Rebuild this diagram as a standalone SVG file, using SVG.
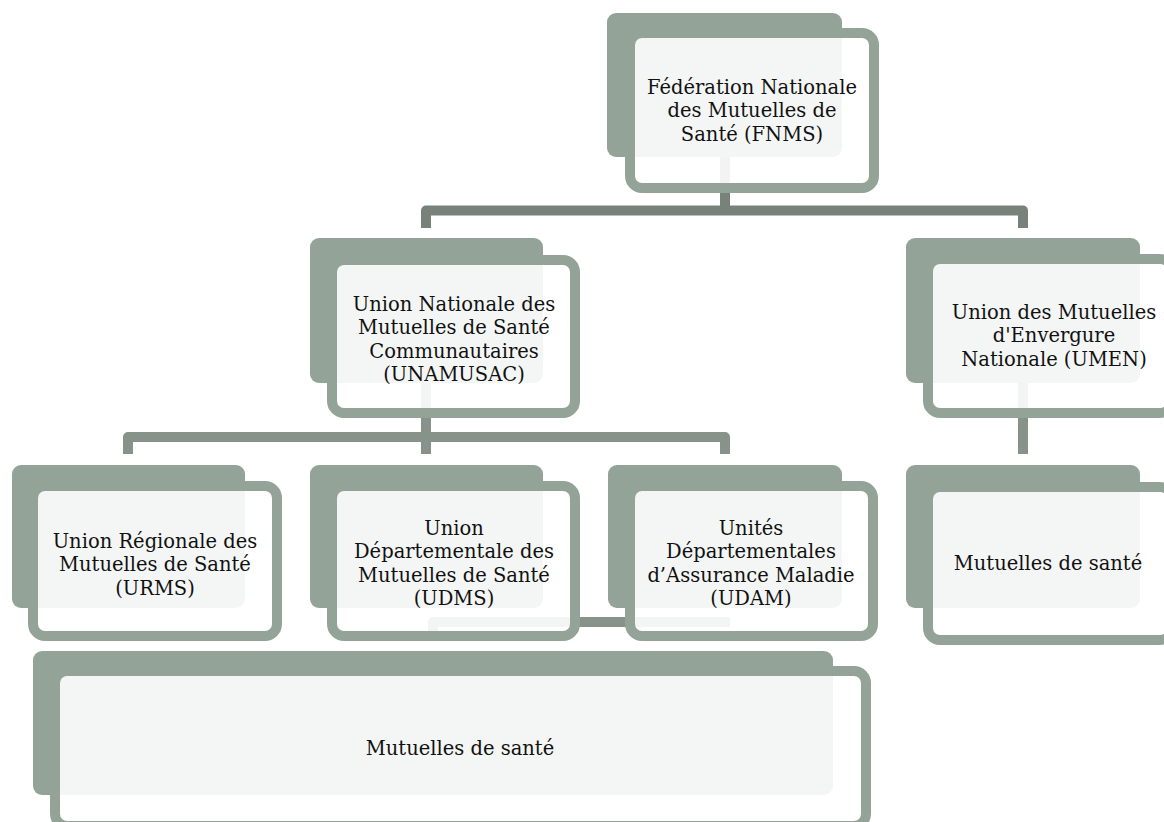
<svg xmlns="http://www.w3.org/2000/svg" width="1164" height="822" viewBox="0 0 1164 822">
<style>
.back{fill:#93a398}
.front{fill:#ffffff;fill-opacity:0.9;stroke:#93a398;stroke-width:10}
.c1{fill:none;stroke:#78827a;stroke-width:10;stroke-linejoin:round}
.c2{fill:none;stroke:#87938a;stroke-width:10;stroke-linejoin:round}
text{font-family:"DejaVu Serif","Liberation Serif",serif;font-size:19.5px;fill:#111;text-anchor:middle}
</style>
<rect width="1164" height="822" fill="#ffffff"/>
<g id="connectors">
<path class="c1" d="M725,157 V210.5"/>
<path class="c1" d="M426,228 V210.5 H1023 V228"/>
<path class="c2" d="M426,383 V437"/>
<path class="c2" d="M128,454 V437 H725 V454"/>
<path class="c2" d="M426,437 V454"/>
<path class="c2" d="M1023,383 V454"/>
<path class="c2" d="M433,636 V622 H730"/>
</g>
<g id="fnms">
<rect class="back" x="607" y="13" width="235" height="144" rx="9"/>
<rect class="front" x="630" y="33" width="244" height="155" rx="12"/>
<text x="752" y="93.5">Fédération Nationale</text>
<text x="752" y="117">des Mutuelles de</text>
<text x="752" y="140.5">Santé (FNMS)</text>
</g>
<g id="unamusac">
<rect class="back" x="310" y="238" width="233" height="145" rx="9"/>
<rect class="front" x="332" y="260" width="243" height="153" rx="12"/>
<text x="454" y="310.5">Union Nationale des</text>
<text x="454" y="334">Mutuelles de Santé</text>
<text x="454" y="357.5">Communautaires</text>
<text x="454" y="381">(UNAMUSAC)</text>
</g>
<g id="umen">
<rect class="back" x="906" y="238" width="234" height="145" rx="9"/>
<rect class="front" x="928" y="259" width="244" height="154" rx="12"/>
<text x="1054" y="318.5">Union des Mutuelles</text>
<text x="1054" y="342">d'Envergure</text>
<text x="1054" y="365.5">Nationale (UMEN)</text>
</g>
<g id="urms">
<rect class="back" x="12" y="465" width="233" height="143" rx="9"/>
<rect class="front" x="33" y="486" width="244" height="150" rx="12"/>
<text x="155" y="547.5">Union Régionale des</text>
<text x="155" y="571">Mutuelles de Santé</text>
<text x="155" y="594.5">(URMS)</text>
</g>
<g id="udms">
<rect class="back" x="310" y="465" width="233" height="143" rx="9"/>
<rect class="front" x="332" y="486" width="243" height="150" rx="12"/>
<text x="454" y="534.5">Union</text>
<text x="454" y="558">Départementale des</text>
<text x="454" y="581.5">Mutuelles de Santé</text>
<text x="454" y="605">(UDMS)</text>
</g>
<g id="udam">
<rect class="back" x="608" y="465" width="234" height="143" rx="9"/>
<rect class="front" x="630" y="486" width="243" height="150" rx="12"/>
<text x="751" y="534.5">Unités</text>
<text x="751" y="558">Départementales</text>
<text x="751" y="581.5">d’Assurance Maladie</text>
<text x="751" y="605">(UDAM)</text>
</g>
<g id="mutuelles-umen">
<rect class="back" x="906" y="465" width="234" height="143" rx="9"/>
<rect class="front" x="928" y="487" width="244" height="153" rx="12"/>
<text x="1048" y="570">Mutuelles de santé</text>
</g>
<g id="mutuelles-bottom">
<rect class="back" x="33" y="651" width="800" height="144" rx="9"/>
<rect class="front" x="55" y="671" width="811" height="155" rx="12"/>
<text x="460" y="755">Mutuelles de santé</text>
</g>
</svg>
